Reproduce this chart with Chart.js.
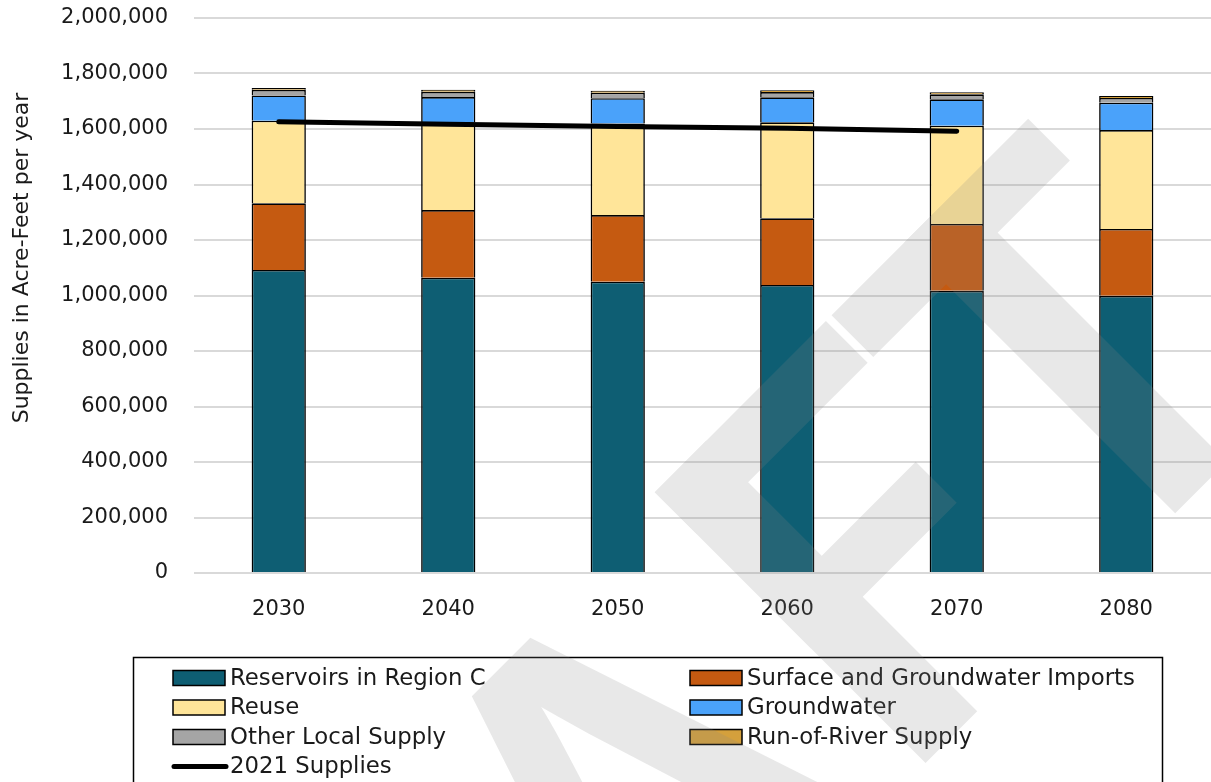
<!DOCTYPE html>
<html>
<head>
<meta charset="utf-8">
<script src="https://cdn.jsdelivr.net/npm/chart.js@4.4.1/dist/chart.umd.min.js"></script>
<style>
  html, body { margin: 0; padding: 0; background: #fff; }
  #wrap { width: 1211px; height: 782px; }
</style>
</head>
<body>
<div id="wrap"><canvas id="supplyChart" width="1211" height="782"></canvas></div>
<script>
// Planning decades
const years = ['2030', '2040', '2050', '2060', '2070', '2080'];

// Supplies by source, acre-feet per year
const reservoirs  = [1092000, 1064000, 1050000, 1038000, 1017000, 999000];
const imports     = [240000, 244000, 240000, 240000, 241000, 241000];
const reuse       = [298000, 315000, 330000, 346000, 354000, 356000];
const groundwater = [91000, 92000, 91000, 90000, 95000, 99000];
const otherLocal  = [20000, 19000, 20000, 19000, 18000, 17000];
const runOfRiver  = [7000, 7000, 7000, 7000, 7000, 7000];

// Currently available (2021) supplies, carried through 2070
const supplies2021 = [1626000, 1617000, 1609000, 1603000, 1592000, null];

// Axis labels
const yTicks = [0, 200000, 400000, 600000, 800000, 1000000, 1200000, 1400000, 1600000, 1800000, 2000000];
const yTitle = 'Supplies in Acre-Feet per year';

const FONT = '"DejaVu Sans", sans-serif';
const INK = '#1a1a1a';

Chart.defaults.font.family = FONT;

function barSet(label, data, color) {
  return {
    type: 'bar',
    label: label,
    data: data,
    backgroundColor: color,
    borderColor: '#000',
    borderWidth: 1.6,
    barPercentage: 1,
    categoryPercentage: 0.32,
    stack: 'sources',
    order: 2
  };
}

const datasets = [
  barSet('Reservoirs in Region C', reservoirs, '#0E5E73'),
  barSet('Surface and Groundwater Imports', imports, '#C55A11'),
  barSet('Reuse', reuse, '#FFE599'),
  barSet('Groundwater', groundwater, '#4AA2FA'),
  barSet('Other Local Supply', otherLocal, '#A5A5A5'),
  barSet('Run-of-River Supply', runOfRiver, '#D4A03C'),
  {
    type: 'line',
    label: '2021 Supplies',
    data: supplies2021,
    borderColor: '#000',
    backgroundColor: '#000',
    borderWidth: 5,
    borderCapStyle: 'round',
    borderJoinStyle: 'round',
    pointRadius: 0,
    pointHoverRadius: 0,
    fill: false,
    tension: 0,
    stack: 'supplies2021',
    order: 1
  }
];

// Block letters F and T of the watermark, as [u0, u1, v0, v1] strips
// in the rotated text frame (u along the baseline, v toward it).
const WM_CAP = 811, WM_BASE = 1194;
const wmStrips = [
  [115, 188, WM_CAP, WM_BASE],      // F stem
  [115, 357, WM_CAP, 870],          // F top arm
  [115, 321, 974, 1032],            // F middle arm
  [365, 643, WM_CAP, 870],          // T bar
  [468, 541, WM_CAP, WM_BASE]       // T stem
];

// Boxed two-column legend, y-axis title and the DRAFT watermark
const decorations = {
  id: 'decorations',
  afterDraw(chart) {
    const ctx = chart.ctx;

    // y-axis title
    ctx.save();
    ctx.translate(22, 258);
    ctx.rotate(-Math.PI / 2);
    ctx.font = '22px ' + FONT;
    ctx.fillStyle = INK;
    ctx.textAlign = 'center';
    ctx.textBaseline = 'middle';
    ctx.fillText(yTitle, 0, 0);
    ctx.restore();

    // legend frame
    ctx.save();
    ctx.strokeStyle = '#000';
    ctx.lineWidth = 1.5;
    ctx.strokeRect(133.5, 657.5, 1029, 160);

    const cols = [173, 690];
    const rows = [678, 707.5, 737, 766.5];
    ctx.font = '22.8px ' + FONT;
    ctx.textBaseline = 'middle';
    ctx.textAlign = 'left';
    chart.data.datasets.forEach((ds, i) => {
      const x = cols[i % 2];
      const y = rows[Math.floor(i / 2)];
      if (ds.type === 'line') {
        ctx.strokeStyle = ds.borderColor;
        ctx.lineWidth = 5;
        ctx.lineCap = 'round';
        ctx.beginPath();
        ctx.moveTo(x + 1, y);
        ctx.lineTo(x + 53, y);
        ctx.stroke();
      } else {
        ctx.fillStyle = ds.backgroundColor;
        ctx.fillRect(x, y - 7.5, 52, 15);
        ctx.strokeStyle = '#000';
        ctx.lineWidth = 1.5;
        ctx.strokeRect(x, y - 7.5, 52, 15);
      }
      ctx.fillStyle = INK;
      ctx.fillText(ds.label, x + 57, y + 1);
    });
    ctx.restore();

    // watermark: large diagonal "DRAFT", drawn solid offscreen then blended
    const off = document.createElement('canvas');
    off.width = chart.width;
    off.height = chart.height;
    const o = off.getContext('2d');
    o.fillStyle = 'rgb(135,135,135)';
    o.rotate(-Math.PI / 4);
    wmStrips.forEach(([u0, u1, v0, v1]) => o.fillRect(u0, v0, u1 - u0, v1 - v0));

    const SX = 0.91;
    o.scale(SX, 1);
    o.font = 'bold 535px "Liberation Sans", sans-serif';
    o.textBaseline = 'alphabetic';
    const mA = o.measureText('A');
    const mR = o.measureText('R');
    const mD = o.measureText('D');
    const half = m => (m.actualBoundingBoxRight - m.actualBoundingBoxLeft) / 2;
    const xA = -118 / SX - half(mA);
    const xR = xA - mR.width + 15;
    const xD = xR - mD.width + 5;
    o.fillText('D', xD, WM_BASE);
    o.fillText('R', xR, WM_BASE);
    o.fillText('A', xA, WM_BASE);

    ctx.save();
    ctx.globalAlpha = 0.19;
    ctx.drawImage(off, 0, 0);
    ctx.restore();
  }
};

new Chart(document.getElementById('supplyChart'), {
  type: 'bar',
  data: { labels: years, datasets: datasets },
  plugins: [decorations],
  options: {
    responsive: false,
    animation: false,
    devicePixelRatio: 1,
    layout: { padding: { top: 18, right: 0, bottom: 159, left: 0 } },
    plugins: {
      legend: { display: false },
      tooltip: { enabled: false }
    },
    scales: {
      x: {
        stacked: true,
        grid: { display: false, drawTicks: false },
        border: { display: false },
        ticks: { color: INK, font: { size: 21 }, padding: 24 },
        afterFit(scale) { scale.height = 50; }
      },
      y: {
        stacked: true,
        min: yTicks[0],
        max: yTicks[yTicks.length - 1],
        afterBuildTicks(scale) { scale.ticks = yTicks.map(v => ({ value: v })); },
        ticks: {
          color: INK,
          font: { size: 21 },
          padding: 26,
          callback: v => Number(v).toLocaleString('en-US')
        },
        grid: { color: '#D9D9D9', lineWidth: 2, drawTicks: false },
        border: { display: false },
        afterFit(scale) {
          scale.width = 194;
          scale.paddingTop = 0;
          scale.paddingBottom = 0;
        }
      }
    }
  }
});
</script>
</body>
</html>
